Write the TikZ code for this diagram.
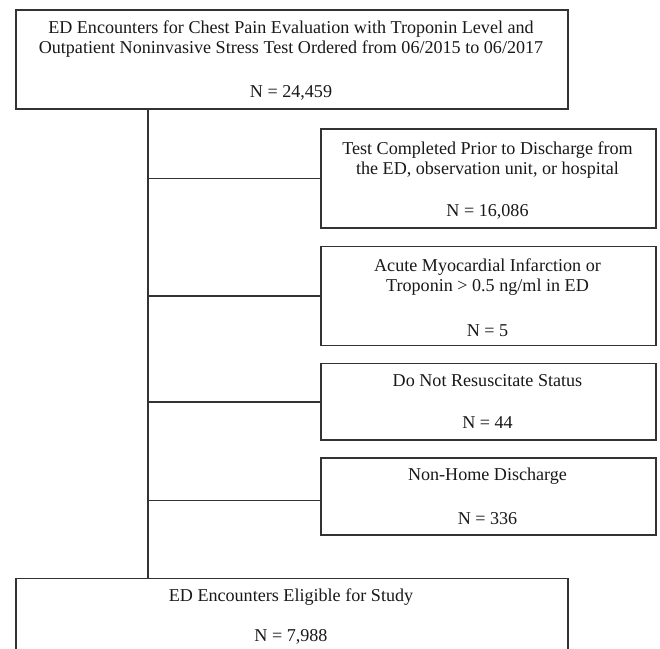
\documentclass[tikz,border=0pt]{standalone}
\usepackage{fontspec}
\setmainfont{Liberation Serif}
\usetikzlibrary{calc}
\begin{document}
\begin{tikzpicture}[x=1pt,y=-1pt,
  box/.style={draw=black!80,line width=1.5pt,rectangle,inner sep=0pt,anchor=north west},
  txt/.style={inner sep=0pt,anchor=base,text=black!90,font=\fontsize{18.1}{20}\selectfont},
  link/.style={draw=black!80,line width=1.5pt}]
\clip (0,0) rectangle (660,648);
\fill[white] (0,0) rectangle (660,648);
% boxes
\node[box,minimum width=552pt,minimum height=99pt] (top) at (15,9) {};
\node[box,minimum width=335pt,minimum height=99pt] (b1) at (320,128.3) {};
\node[box,minimum width=335pt,minimum height=99pt] (b2) at (320,245.7) {};
\node[box,minimum width=335pt,minimum height=76.6pt] (b3) at (320,362.7) {};
\node[box,minimum width=335pt,minimum height=76.7pt] (b4) at (320,457.3) {};
\node[box,minimum width=552pt,minimum height=100pt] (bot) at (15,577.7) {};
% texts
\node[txt] (t0a) at (291,33.3) {ED Encounters for Chest Pain Evaluation with Troponin Level and};
\node[txt] (t0b) at (291,53) {Outpatient Noninvasive Stress Test Ordered from 06/2015 to 06/2017};
\node[txt] (t0n) at (291,97.7) {N = 24,459};
\node[txt] (t1a) at (487.5,154) {Test Completed Prior to Discharge from};
\node[txt] (t1b) at (487.5,174) {the ED, observation unit, or hospital};
\node[txt] (t1n) at (487.5,216.7) {N = 16,086};
\node[txt] (t2a) at (487.5,271.7) {Acute Myocardial Infarction or};
\node[txt] (t2b) at (487.5,291.7) {Troponin > 0.5 ng/ml in ED};
\node[txt] (t2n) at (487.5,336) {N = 5};
\node[txt] (t3a) at (487.5,386) {Do Not Resuscitate Status};
\node[txt] (t3n) at (487.5,428.3) {N = 44};
\node[txt] (t4a) at (487.5,480.7) {Non-Home Discharge};
\node[txt] (t4n) at (487.5,524.3) {N = 336};
\node[txt] (t5a) at (291,601) {ED Encounters Eligible for Study};
\node[txt] (t5n) at (291,641.7) {N = 7,988};
% connectors
\coordinate (trunk) at (148,0);
\draw[link] (top.south -| trunk) -- (bot.north -| trunk);
\draw[link] (b1.west -| trunk) -- (b1.west);
\draw[link] (b2.west -| trunk) -- (b2.west);
\draw[link] (b3.west -| trunk) -- (b3.west);
\coordinate (b4in) at ($(b4.west)+(0,4.3)$);
\draw[link] (b4in -| trunk) -- (b4in);
\end{tikzpicture}
\end{document}
